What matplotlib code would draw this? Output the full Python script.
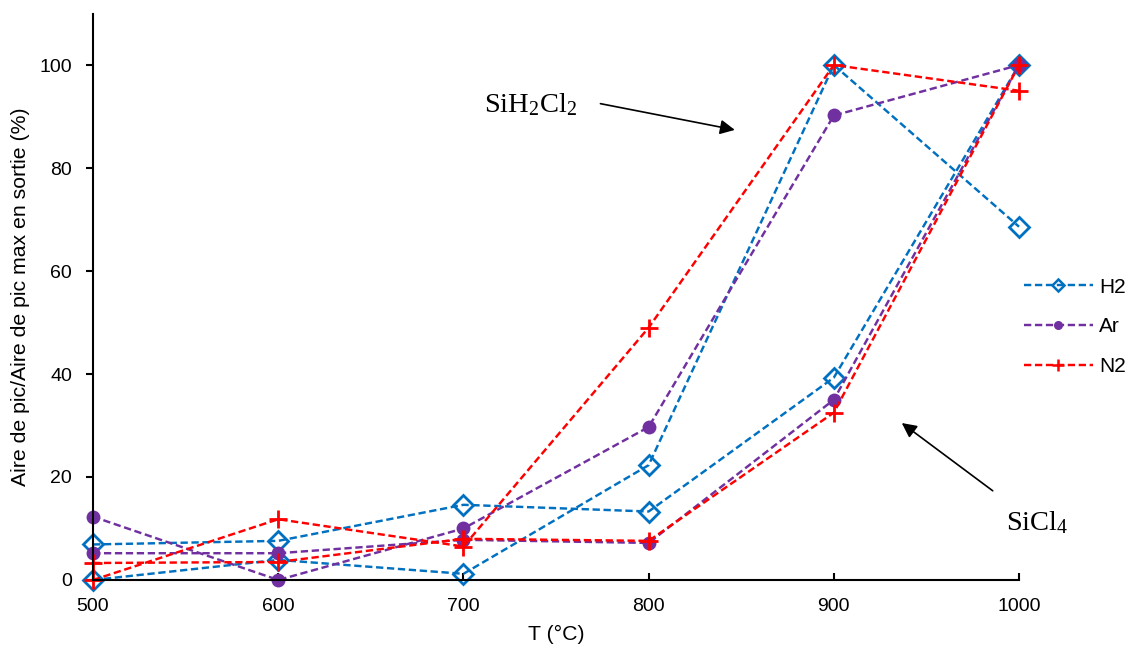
import matplotlib
matplotlib.use("Agg")
import matplotlib.pyplot as plt
from matplotlib.lines import Line2D

plt.rcParams['font.family'] = ['Liberation Sans', 'DejaVu Sans']
plt.rcParams['mathtext.fontset'] = 'custom'
plt.rcParams['mathtext.rm'] = 'Liberation Serif'
plt.rcParams['mathtext.it'] = 'Liberation Serif:italic'

# Temperatures (°C)
temps = [500, 600, 700, 800, 900, 1000]

# SiH2Cl2 curves
h2_sih2cl2 = [0, 3.9, 1.2, 22.3, 100, 68.6]
ar_sih2cl2 = [12.3, 0, 10.0, 29.7, 90.2, 100]
n2_sih2cl2 = [0, 11.8, 6.5, 49.0, 100, 95.0]

# SiCl4 curves
h2_sicl4 = [6.9, 7.6, 14.6, 13.3, 39.3, 100]
ar_sicl4 = [5.2, 5.2, 7.8, 7.2, 35.0, 100]
n2_sicl4 = [3.3, 3.5, 8.0, 7.6, 32.5, 100]

gases = ['H2', 'Ar', 'N2']
colors = {'H2': '#0070C0', 'Ar': '#7030A0', 'N2': '#FF0000'}
series = {'H2': (h2_sih2cl2, h2_sicl4),
          'Ar': (ar_sih2cl2, ar_sicl4),
          'N2': (n2_sih2cl2, n2_sicl4)}
markers = {'H2': dict(marker='D', markersize=10, markerfacecolor='none',
                      markeredgewidth=2),
           'Ar': dict(marker='o', markersize=10, markeredgewidth=0),
           'N2': dict(marker='+', markersize=13, markeredgewidth=2)}

fig = plt.figure(figsize=(11.29, 6.5), dpi=100)
ax = fig.add_axes([0.0824, 0.1077, 0.8202, 0.8715])

for gas in gases:
    for vals in series[gas]:
        ax.plot(temps, vals, color=colors[gas], linestyle='--',
                dashes=(3, 1.5), linewidth=1.75, clip_on=False,
                markeredgecolor=colors[gas], **markers[gas])

ax.set_xlim(500, 1000)
ax.set_ylim(0, 110)
ax.set_xticks(temps)
ax.set_yticks([0, 20, 40, 60, 80, 100])
ax.spines['top'].set_visible(False)
ax.spines['right'].set_visible(False)
for s in ['left', 'bottom']:
    ax.spines[s].set_linewidth(1.5)
ax.tick_params(axis='x', direction='in', length=5, width=1.5, labelsize=14, pad=13)
ax.tick_params(axis='y', direction='out', length=5, width=1.5, labelsize=14, pad=10)

ax.set_xlabel('T (°C)', fontsize=15.3, labelpad=7)
ax.set_ylabel('Aire de pic/Aire de pic max en sortie (%)', fontsize=15.3, labelpad=7)

# annotations
ax.text(711, 92.3, r'SiH$_2$Cl$_2$', fontsize=20.5, family='Liberation Serif',
        va='center', ha='left')
ax.annotate('', xy=(848, 87.3), xytext=(772.5, 92.6),
            arrowprops=dict(arrowstyle='-|>', color='black', lw=1.2,
                            mutation_scale=22))
ax.text(993, 11.2, r'SiCl$_4$', fontsize=20.5, family='Liberation Serif',
        va='center', ha='left', clip_on=False)
ax.annotate('', xy=(935.5, 30.8), xytext=(987, 17.0),
            arrowprops=dict(arrowstyle='-|>', color='black', lw=1.2,
                            mutation_scale=22), annotation_clip=False)

handles = [Line2D([], [], color=colors[g], linestyle='--', dashes=(3, 1.5),
                  linewidth=1.75, marker=markers[g]['marker'],
                  markersize=markers[g]['markersize'] * 0.65,
                  markerfacecolor='none' if g == 'H2' else colors[g],
                  markeredgecolor=colors[g],
                  markeredgewidth=1.8 if g != 'Ar' else 0)
           for g in gases]
fig.legend(handles, gases, loc='center left', bbox_to_anchor=(0.907, 0.497),
           frameon=False, fontsize=15, handlelength=3.3, labelspacing=1.0,
           handletextpad=0.3, borderpad=0, borderaxespad=0)

fig.savefig('out.png', dpi=100)
